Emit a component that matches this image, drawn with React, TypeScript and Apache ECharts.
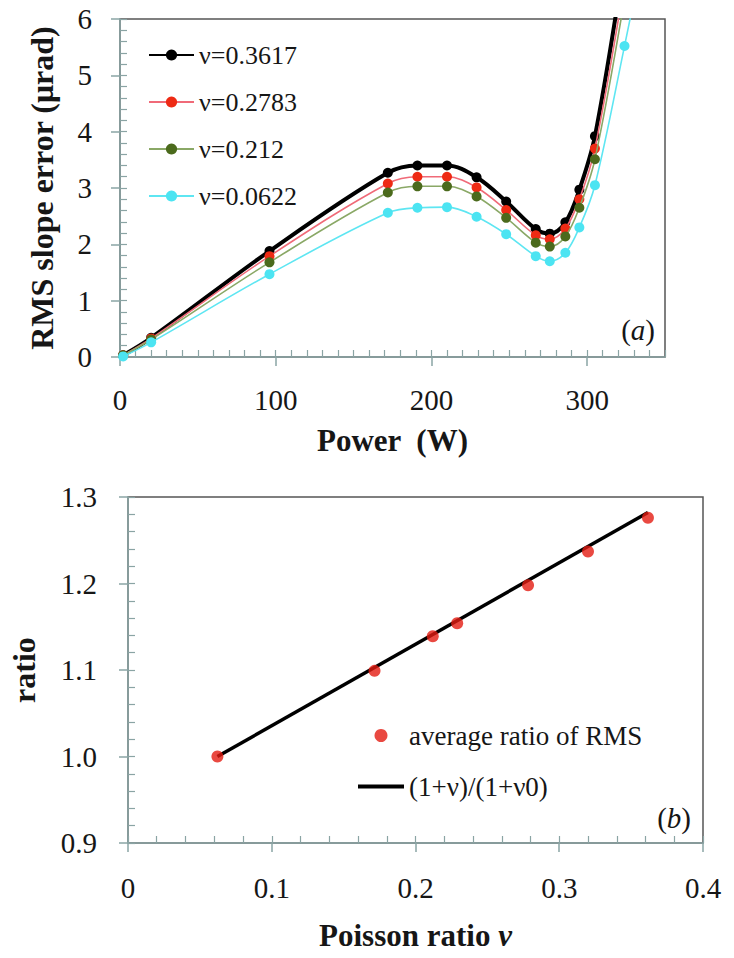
import React, { useEffect, useRef } from 'react';
import * as echarts from 'echarts';

// ---- Panel (a): RMS slope error vs power ----
const power = [2, 20, 96, 172, 191, 210, 229, 248, 267, 276, 286, 295, 305, 324, 343];
const rmsNu3617 = [0.03, 0.34, 1.88, 3.27, 3.4, 3.4, 3.19, 2.76, 2.27, 2.19, 2.39, 2.97, 3.92, 7.05, 10.5];
const rmsNu2783 = [0.03, 0.33, 1.79, 3.08, 3.2, 3.2, 3.01, 2.61, 2.16, 2.09, 2.28, 2.8, 3.7, 6.65, 10.0];
const rmsNu212 = [0.03, 0.31, 1.68, 2.92, 3.03, 3.03, 2.85, 2.47, 2.03, 1.96, 2.14, 2.65, 3.51, 6.35, 9.5];
const rmsNu0622 = [0.01, 0.26, 1.47, 2.56, 2.65, 2.66, 2.49, 2.18, 1.79, 1.7, 1.85, 2.3, 3.05, 5.52, 8.1];
const seriesNamesA = ['ν=0.3617', 'ν=0.2783', 'ν=0.212', 'ν=0.0622'];

// ---- Panel (b): ratio vs Poisson ratio ----
const poissonNu = [0.0622, 0.1715, 0.212, 0.229, 0.2783, 0.32, 0.3617];
const avgRatio = [1.0, 1.099, 1.139, 1.154, 1.198, 1.237, 1.276];
const theoryNu = [0.0622, 0.3617];
const theoryRatio = [1.0, 1.282];
const seriesNamesB = ['average ratio of RMS', '(1+ν)/(1+ν0)'];

const FONT = 'Liberation Serif';
const AXIS = '#8aa4a4';
const TXT = '#161616';

function zip(xs: number[], ys: number[]) {
  return xs.map((x, i) => [x, ys[i]]);
}

export default function App() {
  const ref = useRef<HTMLDivElement>(null);
  useEffect(() => {
    if (!ref.current) return;
    const chart = echarts.init(ref.current, undefined, { renderer: 'svg' });

    const labelStyle = (margin: number, fmt: (v: number) => string, extra: any = {}) => ({
      margin,
      fontSize: 29,
      color: TXT,
      fontFamily: FONT,
      formatter: fmt,
      ...extra,
    });

    const mainAxis = (gridIndex: number, min: number, max: number, interval: number, label: any, extra: any) => ({
      type: 'value',
      gridIndex,
      min,
      max,
      interval,
      axisLine: { show: true, onZero: false, lineStyle: { color: AXIS, width: 1.5 } },
      axisTick: { show: true, inside: false, length: 9, lineStyle: { color: AXIS, width: 1.5 } },
      axisLabel: label,
      splitLine: { show: false },
      nameLocation: 'middle',
      ...extra,
    });
    const minorAxis = (gridIndex: number, min: number, max: number, interval: number, extra: any) => ({
      type: 'value',
      gridIndex,
      min,
      max,
      interval,
      axisLine: { show: false, onZero: false },
      axisTick: { show: true, inside: true, length: 7, lineStyle: { color: AXIS, width: 1.2 } },
      axisLabel: { show: false },
      splitLine: { show: false },
      ...extra,
    });

    const nameStyle = (size: number) => ({ fontSize: size, fontWeight: 'bold', fontFamily: FONT, color: TXT });

    const colorsA = [
      { line: '#000000', mark: '#000000', w: 4 },
      { line: '#f06a78', mark: '#ee2a14', w: 1.6 },
      { line: '#8aa866', mark: '#4b6a1c', w: 1.6 },
      { line: '#5ee6f2', mark: '#4ce4f2', w: 1.6 },
    ];
    const dataA = [rmsNu3617, rmsNu2783, rmsNu212, rmsNu0622];

    const option: any = {
      animation: false,
      textStyle: { fontFamily: FONT },
      grid: [
        { left: 120, top: 19, width: 545, height: 338, show: true, borderColor: '#555', borderWidth: 1.5, backgroundColor: 'transparent' },
        { left: 120, top: 497, width: 583, height: 346, show: true, borderColor: '#555', borderWidth: 1.5, backgroundColor: 'transparent' },
      ],
      xAxis: [
        mainAxis(0, 0, 350, 100, labelStyle(28, (v: number) => String(v), { showMaxLabel: false }), {
          position: 'bottom',
          name: 'Power  (W)', nameGap: 68, nameTextStyle: nameStyle(31),
        }),
        minorAxis(0, 0, 350, 10, { position: 'bottom' }),
        mainAxis(1, 0, 0.4, 0.1, labelStyle(30, (v: number) => (v === 0 ? '0' : v.toFixed(1))), {
          position: 'bottom',
          name: '{b|Poisson ratio }{i|ν}', nameGap: 77,
          nameTextStyle: {
            ...nameStyle(31),
            rich: {
              b: nameStyle(31),
              i: { ...nameStyle(31), fontStyle: 'italic' },
            },
          },
        }),
        minorAxis(1, 0, 0.4, 0.02, { position: 'bottom' }),
      ],
      yAxis: [
        mainAxis(0, 0, 6, 1, labelStyle(28, (v: number) => String(v)), {
          position: 'left',
          name: 'RMS slope error (μrad)', nameGap: 62, nameTextStyle: nameStyle(32),
        }),
        minorAxis(0, 0, 6, 0.2, { position: 'left' }),
        mainAxis(1, 0.9, 1.3, 0.1, labelStyle(31, (v: number) => v.toFixed(1)), {
          position: 'left',
          name: 'ratio', nameGap: 88, nameTextStyle: nameStyle(32),
        }),
        minorAxis(1, 0.9, 1.3, 0.02, { position: 'left' }),
      ],
      legend: [
        {
          orient: 'vertical',
          left: 148,
          top: 42,
          padding: 0,
          itemWidth: 45,
          itemHeight: 14,
          itemGap: 21,
          data: seriesNamesA,
          textStyle: { fontSize: 26, lineHeight: 26, fontFamily: FONT, color: TXT },
        },
        {
          orient: 'vertical',
          left: 358,
          top: 722,
          padding: 0,
          itemWidth: 46,
          itemHeight: 13,
          itemGap: 24,
          data: [
            { name: seriesNamesB[0], icon: 'circle' },
            { name: seriesNamesB[1], icon: 'path://M0,0 L46,0 L46,4 L0,4 Z' },
          ],
          textStyle: { fontSize: 27, lineHeight: 26, fontFamily: FONT, color: TXT },
        },
      ],
      series: [
        ...dataA.map((d, i) => ({
          type: 'line',
          name: seriesNamesA[i],
          xAxisIndex: 0,
          yAxisIndex: 0,
          data: zip(power, d),
          smooth: 0.35,
          clip: true,
          symbol: 'circle',
          symbolSize: 10,
          showSymbol: true,
          lineStyle: { color: colorsA[i].line, width: colorsA[i].w },
          itemStyle: { color: colorsA[i].mark },
          z: 2 + i,
        })),
        {
          type: 'line',
          name: seriesNamesB[1],
          xAxisIndex: 2,
          yAxisIndex: 2,
          data: zip(theoryNu, theoryRatio),
          symbol: 'none',
          lineStyle: { color: '#000', width: 3.5 },
          itemStyle: { color: '#000' },
          z: 2,
        },
        {
          type: 'scatter',
          name: seriesNamesB[0],
          xAxisIndex: 2,
          yAxisIndex: 2,
          data: zip(poissonNu, avgRatio),
          symbol: 'circle',
          symbolSize: 12,
          itemStyle: { color: '#e31b12' },
          z: 3,
        },
      ],
      graphic: [
        {
          type: 'text',
          x: 655,
          y: 330,
          style: {
            text: '{n|(}{i|a}{n|)}',
            align: 'right',
            textAlign: 'right',
            verticalAlign: 'middle',
            textVerticalAlign: 'middle',
            fill: TXT,
            rich: {
              n: { fontSize: 29, fontFamily: FONT, color: TXT },
              i: { fontSize: 29, fontFamily: FONT, fontStyle: 'italic', color: TXT },
            },
          },
        },
        {
          type: 'text',
          x: 691,
          y: 818,
          style: {
            text: '{n|(}{i|b}{n|)}',
            align: 'right',
            textAlign: 'right',
            verticalAlign: 'middle',
            textVerticalAlign: 'middle',
            fill: TXT,
            rich: {
              n: { fontSize: 29, fontFamily: FONT, color: TXT },
              i: { fontSize: 29, fontFamily: FONT, fontStyle: 'italic', color: TXT },
            },
          },
        },
      ],
    };

    chart.setOption(option);
    return () => chart.dispose();
  }, []);

  return (
    <div
      ref={ref}
      style={{ position: 'fixed', left: 0, top: 0, width: 734, height: 958, background: '#fff' }}
    />
  );
}
